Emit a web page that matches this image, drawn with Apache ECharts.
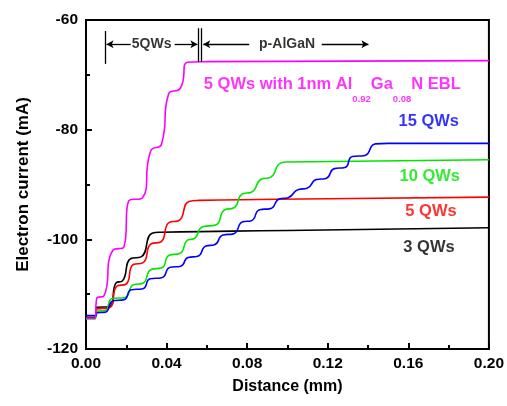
<!DOCTYPE html>
<html>
<head>
<meta charset="utf-8">
<script src="https://cdn.jsdelivr.net/npm/echarts@6/dist/echarts.min.js"></script>
<style>
  html, body { margin: 0; padding: 0; background: #fff; }
  #chart { width: 507px; height: 406px; }
</style>
</head>
<body>
<div id="chart"></div>
<script>
// electron current vs distance
const qw3 = [[0, -114.2], [0.0044, -114.2], [0.0054, -112.4], [0.0115, -112.3], [0.015, -107.9], [0.018, -107.6],
  [0.0223, -103.5], [0.0273, -103.2], [0.0328, -98.9], [0.037, -98.7], [0.10, -98.4], [0.20, -97.9]]

const qw5 = [[0, -114.4], [0.0044, -114.4], [0.0054, -112.7], [0.0115, -112.5], [0.0155, -108.5], [0.0198, -108.2],
  [0.0235, -104.6], [0.0282, -104.3], [0.0324, -100.8], [0.0371, -100.5], [0.0413, -96.9], [0.046, -96.6],
  [0.0511, -93.1], [0.056, -92.9], [0.12, -92.6], [0.20, -92.3]]

const qw10 = [[0, -114.5], [0.0044, -114.5], [0.0054, -113.1], [0.0095, -113.0], [0.013, -110.8], [0.0194, -110.6],
  [0.0235, -108.3], [0.0282, -108.0], [0.0324, -105.5], [0.0376, -105.2], [0.0413, -102.9], [0.0465, -102.6],
  [0.0506, -100.1], [0.0535, -99.9], [0.058, -97.7], [0.0643, -97.4], [0.0689, -94.6], [0.0732, -94.3],
  [0.0778, -91.7], [0.0821, -91.4], [0.0872, -89.0], [0.0915, -88.7], [0.0966, -86.1], [0.10, -85.9], [0.20, -85.5]]

const qw15 = [[0, -113.9], [0.0049, -113.9], [0.0054, -113.4], [0.0095, -113.3], [0.0135, -111.2], [0.0189, -111.0],
  [0.0225, -109.2], [0.0282, -109.0], [0.0319, -107.2], [0.0376, -107.0], [0.0418, -105.1], [0.047, -104.9],
  [0.0507, -103.3], [0.0554, -103.1], [0.0596, -101.2], [0.0638, -101.0], [0.068, -99.2], [0.0732, -99.0],
  [0.0778, -96.8], [0.0821, -96.6], [0.0862, -94.6], [0.0915, -94.4], [0.0961, -92.6], [0.1003, -92.4],
  [0.1055, -90.9], [0.1097, -90.7], [0.1144, -89.1], [0.1191, -88.9], [0.1233, -87.1], [0.1285, -86.9],
  [0.1322, -84.9], [0.1384, -84.7], [0.1435, -82.6], [0.15, -82.5], [0.20, -82.5]]

const qw5Ebl = [[0, -114.4], [0.0044, -114.4], [0.0054, -110.7], [0.0089, -110.3], [0.0133, -102.0], [0.0188, -101.4],
  [0.0212, -93.0], [0.0281, -92.4], [0.0321, -83.9], [0.0375, -82.6], [0.041, -73.5], [0.0469, -72.4],
  [0.0504, -67.7], [0.06, -67.6], [0.20, -67.4]]

const xTicks = ['0.00', '0.04', '0.08', '0.12', '0.16', '0.20']
const yTicks = [-120, -100, -80, -60]

// region markers above the curves (data coordinates)
const barLines = [[0.0094, -62.0, -68.0], [0.0558, -61.5, -67.6], [0.0573, -61.5, -67.6]]
const arrows = [[0.0222, 0.0102, -64.4], [0.044, 0.0553, -64.4], [0.081, 0.0582, -64.4], [0.117, 0.1402, -64.4]]
const regionText = [['5QWs', 0.0326, -64.4], ['p-AlGaN', 0.0998, -64.4]]

const curveLabels = [
  ['5 QWs with 1nm Al{sub|0.92}Ga{sub|0.08}N EBL', 0.0585, -71.8, '#ff00ff'],
  ['15 QWs', 0.1551, -78.5, '#0000ff'],
  ['10 QWs', 0.1556, -88.6, '#00e600'],
  ['5 QWs', 0.1585, -94.9, '#ff0000'],
  ['3 QWs', 0.1575, -101.5, '#000000']
]

const font = 'Arial, "Liberation Sans", sans-serif'

function curve(name, data, color) {
  return {
    name: name,
    type: 'line',
    data: data,
    showSymbol: false,
    smooth: 0.55,
    lineStyle: { color: color, width: 1.6 },
    itemStyle: { color: color },
    z: 3
  }
}

const chart = echarts.init(document.getElementById('chart'), null, { renderer: 'canvas' })

chart.setOption({
  animation: false,
  grid: { left: 86, right: 16, top: 20, bottom: 57, show: true, borderColor: '#000', borderWidth: 2, backgroundColor: 'transparent' },
  xAxis: {
    type: 'value',
    min: 0,
    max: 0.2,
    interval: 0.04,
    name: 'Distance (mm)',
    nameLocation: 'middle',
    nameGap: 30,
    nameTextStyle: { fontFamily: font, fontWeight: 'bold', fontSize: 16, color: '#000' },
    axisLine: { onZero: false, lineStyle: { color: '#000', width: 2 } },
    axisTick: { inside: true, length: 6, lineStyle: { color: '#000', width: 2 } },
    minorTick: { show: true, splitNumber: 2, length: 4, lineStyle: { color: '#000', width: 2 } },
    splitLine: { show: false },
    axisLabel: {
      margin: 7,
      fontFamily: font, fontWeight: 'bold', fontSize: 15.5, color: '#000',
      formatter: v => xTicks.find(t => Math.abs(parseFloat(t) - v) < 1e-6) || ''
    }
  },
  yAxis: {
    type: 'value',
    min: -120,
    max: -60,
    interval: 20,
    name: 'Electron current (mA)',
    nameLocation: 'middle',
    nameGap: 54,
    nameTextStyle: { fontFamily: font, fontWeight: 'bold', fontSize: 17, color: '#000' },
    axisLine: { onZero: false, lineStyle: { color: '#000', width: 2 } },
    axisTick: { inside: true, length: 6, lineStyle: { color: '#000', width: 2 } },
    minorTick: { show: true, splitNumber: 2, length: 4, lineStyle: { color: '#000', width: 2 } },
    splitLine: { show: false },
    axisLabel: {
      margin: 8,
      fontFamily: font, fontWeight: 'bold', fontSize: 15.5, color: '#000',
      formatter: v => (yTicks.indexOf(v) >= 0 ? String(v) : '')
    }
  },
  series: [
    curve('3 QWs', qw3, '#000000'),
    curve('5 QWs', qw5, '#ff0000'),
    curve('10 QWs', qw10, '#00e600'),
    curve('15 QWs', qw15, '#0000ff'),
    curve('5 QWs EBL', qw5Ebl, '#ff00ff'),
    {
      // region markers
      type: 'line',
      data: [],
      silent: true,
      markLine: {
        silent: true,
        animation: false,
        label: { show: false },
        lineStyle: { color: '#000', width: 1.3, type: 'solid' },
        data: barLines.map(b => [
          { coord: [b[0], b[1]], symbol: 'none' },
          { coord: [b[0], b[2]], symbol: 'none' }
        ]).concat(arrows.map(a => [
          { coord: [a[0], a[2]], symbol: 'none' },
          { coord: [a[1], a[2]], symbol: 'arrow', symbolSize: [6, 7] }
        ]))
      }
    },
    {
      type: 'scatter',
      symbolSize: 0,
      silent: true,
      data: regionText.map(t => ({ value: [t[1], t[2]], name: t[0] })),
      label: {
        show: true,
        position: 'inside',
        formatter: p => p.name,
        fontFamily: font, fontWeight: 'bold', fontSize: 14, color: '#000'
      },
      z: 5
    },
    {
      type: 'scatter',
      symbolSize: 0,
      silent: true,
      data: curveLabels.map(c => ({
        value: [c[1], c[2]],
        name: c[0],
        label: {
          color: c[3],
          rich: { sub: { fontFamily: font, fontWeight: 'bold', fontSize: 9.5, lineHeight: 10, verticalAlign: 'bottom', color: c[3] } }
        }
      })),
      label: {
        show: true,
        position: 'right',
        distance: 0,
        formatter: p => p.name,
        fontFamily: font, fontWeight: 'bold', fontSize: 16.5, lineHeight: 40
      },
      z: 5
    }
  ]
})
</script>
</body>
</html>
